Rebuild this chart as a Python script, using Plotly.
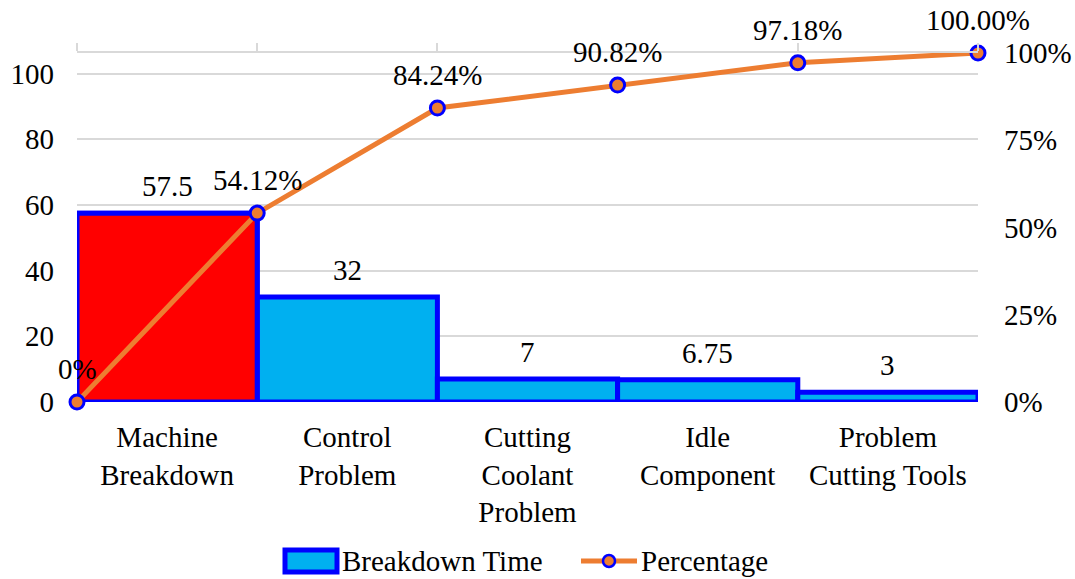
import plotly.graph_objects as go

# Pareto data: breakdown causes, time lost and cumulative share
categories = ["Machine<br>Breakdown", "Control<br>Problem", "Cutting<br>Coolant<br>Problem",
              "Idle<br>Component", "Problem<br>Cutting Tools"]
breakdown_time = [57.5, 32, 7, 6.75, 3]
bar_labels = ["57.5", "32", "7", "6.75", "3"]
cum_positions = [0, 1, 2, 3, 4, 5]
cum_percent = [0.0, 0.5412, 0.8424, 0.9082, 0.9718, 1.0]
cum_labels = ["0%", "54.12%", "84.24%", "90.82%", "97.18%", "100.00%"]
left_ticks = [0, 20, 40, 60, 80, 100]
right_ticks = [0, 0.25, 0.5, 0.75, 1.0]
right_tick_text = ["0%", "25%", "50%", "75%", "100%"]
legend_names = ["Breakdown Time", "Percentage"]

FONT = "Liberation Serif, Times New Roman, serif"
FS = 29
BLUE_FILL = "#00B0F0"
BORDER = "#0000FF"
ORANGE = "#ED7D31"
GRID = "#D9D9D9"

W, H = 1075, 579
ML, MR, MT, MB = 77, 97, 53, 177
PW, PH = W - ML - MR, H - MT - MB

centers = [i + 0.5 for i in range(len(categories))]
total = sum(breakdown_time)

fig = go.Figure()

fig.add_trace(go.Bar(
    x=centers, y=breakdown_time, width=1, name=legend_names[0], showlegend=False,
    marker=dict(color=BLUE_FILL, line=dict(color=BORDER, width=5)),
    xaxis="x", yaxis="y",
))
# highlight the leading cause
fig.add_trace(go.Bar(
    x=centers[:1], y=breakdown_time[:1], width=1, showlegend=False,
    marker=dict(color="#FF0000", line=dict(color=BORDER, width=5)),
    xaxis="x", yaxis="y",
))
fig.add_trace(go.Scatter(
    x=cum_positions, y=cum_percent, name=legend_names[1], mode="lines+markers",
    showlegend=False,
    line=dict(color=ORANGE, width=5),
    marker=dict(size=14, color=ORANGE, line=dict(color=BORDER, width=3)),
    cliponaxis=False, xaxis="x2", yaxis="y2",
))

txt_font = dict(family=FONT, size=FS, color="black")
annotations = []
for xc, v, t in zip(centers, breakdown_time, bar_labels):
    annotations.append(dict(x=xc, y=v, xref="x", yref="y", text=t, showarrow=False,
                            yanchor="middle", yshift=27, font=txt_font))
for xp, p, t in zip(cum_positions, cum_percent, cum_labels):
    annotations.append(dict(x=xp, y=p, xref="x2", yref="y2", text=t, showarrow=False,
                            yanchor="middle", yshift=33, font=txt_font))


# legend drawn in paper coordinates below the plot
def px(xpix):
    return (xpix - ML) / PW


def py(ypix):
    return (H - MB - ypix) / PH


LEG_Y = 561
shapes = [
    dict(type="rect", xref="paper", yref="paper",
         x0=px(285), x1=px(337), y0=py(LEG_Y + 11), y1=py(LEG_Y - 11),
         fillcolor=BLUE_FILL, line=dict(color=BORDER, width=5)),
    dict(type="line", xref="paper", yref="paper",
         x0=px(581), x1=px(637), y0=py(LEG_Y), y1=py(LEG_Y),
         line=dict(color=ORANGE, width=5)),
    dict(type="circle", xref="paper", yref="paper",
         x0=px(603), x1=px(615), y0=py(LEG_Y + 6), y1=py(LEG_Y - 6),
         fillcolor=ORANGE, line=dict(color=BORDER, width=2.5)),
]
annotations.append(dict(x=px(340), y=py(LEG_Y), xref="paper", yref="paper",
                        text=legend_names[0], showarrow=False, xanchor="left",
                        yanchor="middle", font=txt_font))
annotations.append(dict(x=px(639), y=py(LEG_Y), xref="paper", yref="paper",
                        text=legend_names[1], showarrow=False, xanchor="left",
                        yanchor="middle", font=txt_font))

fig.update_layout(
    width=W, height=H,
    margin=dict(l=ML, r=MR, t=MT, b=MB, autoexpand=False),
    paper_bgcolor="white", plot_bgcolor="white",
    font=txt_font,
    barmode="overlay",
    showlegend=False,
    xaxis=dict(range=[0, 5], tickvals=centers, ticktext=categories, showgrid=False,
               zeroline=False, showline=False, ticks="", ticklabelstandoff=15,
               automargin=False, tickfont=txt_font),
    yaxis=dict(range=[0, total], tickvals=left_ticks, showgrid=True, gridcolor=GRID,
               gridwidth=1.5, zeroline=False, showline=False, ticks="",
               ticklabelstandoff=22, automargin=False, tickfont=txt_font),
    xaxis2=dict(range=[0, 5], overlaying="x", side="top", anchor="y2",
                tickvals=cum_positions, showticklabels=False, ticks="outside",
                ticklen=8, tickwidth=1.5, tickcolor=GRID, showline=True,
                linecolor=GRID, linewidth=1.5, showgrid=False, zeroline=False,
                automargin=False),
    yaxis2=dict(range=[0, 1], overlaying="y", side="right", anchor="x2",
                tickvals=right_ticks, ticktext=right_tick_text, showgrid=False,
                zeroline=False, showline=False, ticks="", ticklabelstandoff=25,
                automargin=False, tickfont=txt_font),
    shapes=shapes,
    annotations=annotations,
)

fig.write_html("out.html")
